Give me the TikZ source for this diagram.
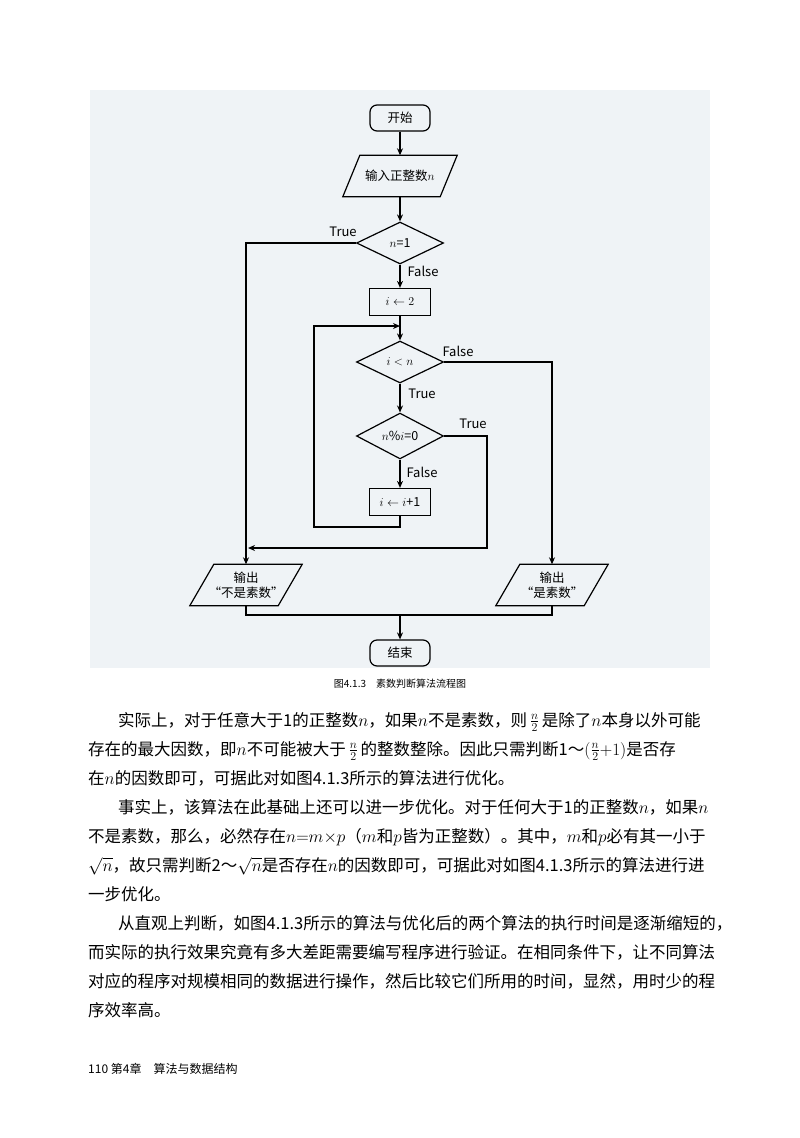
\documentclass[tikz,border=0pt]{standalone}
\usepackage{fontspec}
\setmainfont{Noto Sans CJK SC}
\usetikzlibrary{shapes.geometric,arrows.meta}
\definecolor{panel}{RGB}{239,243,246}
\tikzset{
 every node/.style={font=\fontsize{12.5}{15}\selectfont},
 term/.style={draw,line width=1.2pt,rounded corners=7pt,minimum width=60pt,minimum height=26pt,inner sep=0pt},
 proc/.style={draw,line width=1.2pt,minimum width=61pt,minimum height=27pt,inner sep=0pt},
 dec/.style={draw,line width=1.2pt,diamond,minimum width=87pt,minimum height=42pt,inner sep=0pt},
 iobox/.style={minimum width=#1,minimum height=41pt,inner sep=0pt,align=center},
 arr/.style={line width=1.2pt,-{Stealth[length=7pt,width=6pt]}},
 ln/.style={line width=1.2pt},
 lab/.style={font=\fontsize{13}{15}\selectfont},
 body/.style={anchor=base west,font=\fontsize{16.5}{20}\selectfont,inner sep=0pt}
}
\newcommand{\paral}[2]{\draw[ln] ([xshift=-#2]#1.south west) -- ([xshift=#2]#1.north west) -- ([xshift=#2]#1.north east) -- ([xshift=-#2]#1.south east) -- cycle;}
\begin{document}
\begin{tikzpicture}[x=1pt,y=-1pt]
\useasboundingbox (0,0) rectangle (800,1138);
\fill[white] (0,0) rectangle (800,1138);
\fill[panel] (90,90) rectangle (710,668);

\node[term] (start) at (400,118) {开始};
\node[iobox=97pt] (in) at (400,176) {输入正整数$n$};
\paral{in}{8.5pt}
\node[dec] (d1) at (400,243) {$n$=1};
\node[proc] (s2) at (400,302) {$i\leftarrow 2$};
\coordinate (j) at (400,326);
\node[dec] (d2) at (400,362) {$i<n$};
\node[dec] (d3) at (400,436) {$n\%i$=0};
\node[proc] (s3) at (400,502) {$i\leftarrow i$+1};
\node[iobox=88pt] (outL) at (246,585) {输出\\“不是素数”};
\paral{outL}{12pt}
\node[iobox=88pt] (outR) at (552,585) {输出\\“是素数”};
\paral{outR}{12pt}
\node[term] (end) at (400,653) {结束};
\node[font=\fontsize{10}{12}\selectfont] (cap) at (400,684) {图4.1.3\quad 素数判断算法流程图};

\draw[arr] (start) -- (in);
\draw[arr] (in) -- (d1);
\draw[arr] (d1.west) -| (outL.north);
\node[lab] (t1) at (343,232) {True};
\draw[arr] (d1) -- (s2);
\node[lab] (f1) at (423,271) {False};
\draw[ln] (s2.south) -- (j);
\draw[arr] (j) -- (d2);
\draw[arr] (d2.east) -| (outR.north);
\node[lab] (f2) at (458,351) {False};
\draw[arr] (d2) -- (d3);
\node[lab] (t2) at (422,394) {True};
\node[lab] (t3) at (473,424) {True};
\coordinate (c1) at (487,548);
\draw[arr] (d3.east) -| (c1) -- ([xshift=2pt]c1 -| outL.north);
\draw[arr] (d3) -- (s3);
\node[lab] (f3) at (422,472) {False};
\coordinate (lp) at (314,527);
\draw[arr] (s3.south) |- (lp) |- (j);
\coordinate (m) at (400,615);
\draw[ln] (outL.south) |- (m) -| (outR.south);
\draw[arr] (m) -- (end);

\node[body] (l1) at (118,726) {实际上，对于任意大于1的正整数$n$，如果$n$不是素数，则\,$\frac{n}{2}$\,是除了$n$本身以外可能};
\node[body] (l2) at (88,755) {存在的最大因数，即$n$不可能被大于\,$\frac{n}{2}$\,的整数整除。因此只需判断1～$\bigl(\frac{n}{2}{+}1\bigr)$是否存};
\node[body] (l3) at (88,784) {在$n$的因数即可，可据此对如图4.1.3所示的算法进行优化。};
\node[body] (l4) at (118,813) {事实上，该算法在此基础上还可以进一步优化。对于任何大于1的正整数$n$，如果$n$};
\node[body] (l5) at (88,842) {不是素数，那么，必然存在$n{=}m{\times}p$（$m$和$p$皆为正整数）。其中，$m$和$p$必有其一小于};
\node[body] (l6) at (88,871) {$\sqrt{n}$，故只需判断2～$\sqrt{n}$是否存在$n$的因数即可，可据此对如图4.1.3所示的算法进行进};
\node[body] (l7) at (88,900) {一步优化。};
\node[body] (l8) at (118,929) {从直观上判断，如图4.1.3所示的算法与优化后的两个算法的执行时间是逐渐缩短的，};
\node[body] (l9) at (88,958) {而实际的执行效果究竟有多大差距需要编写程序进行验证。在相同条件下，让不同算法};
\node[body] (l10) at (88,987) {对应的程序对规模相同的数据进行操作，然后比较它们所用的时间，显然，用时少的程};
\node[body] (l11) at (88,1016) {序效率高。};
\node[anchor=base west,font=\fontsize{12}{14}\selectfont,inner sep=0pt] (foot) at (88,1073) {110 第4章\quad 算法与数据结构};
\end{tikzpicture}
\end{document}
